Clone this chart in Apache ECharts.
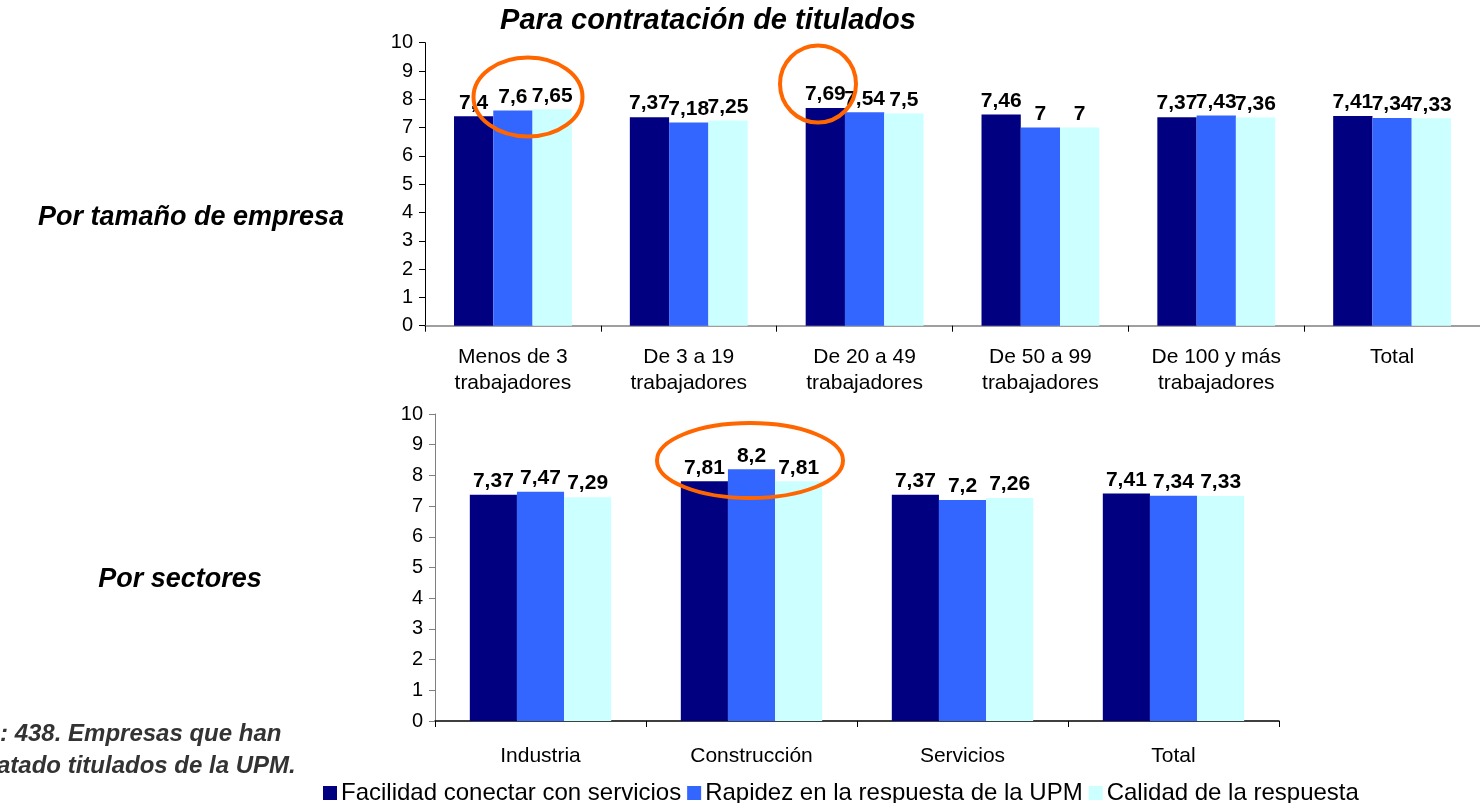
<!DOCTYPE html>
<html>
<head>
<meta charset="utf-8">
<script src="https://cdn.jsdelivr.net/npm/echarts@6/dist/echarts.min.js"></script>
<style>
html,body{margin:0;padding:0;background:#fff;}
#chart{width:1480px;height:803px;}
</style>
</head>
<body>
<div id="chart"></div>
<script>
// ---- Data ----
const seriesNames = ['Facilidad conectar con servicios', 'Rapidez en la respuesta de la UPM', 'Calidad de la respuesta'];
const topCategories = ['Menos de 3\ntrabajadores', 'De 3 a 19\ntrabajadores', 'De 20 a 49\ntrabajadores', 'De 50 a 99\ntrabajadores', 'De 100 y más\ntrabajadores', 'Total'];
const topFacilidad = [7.4, 7.37, 7.69, 7.46, 7.37, 7.41];
const topRapidez = [7.6, 7.18, 7.54, 7, 7.43, 7.34];
const topCalidad = [7.65, 7.25, 7.5, 7, 7.36, 7.33];
const bottomCategories = ['Industria', 'Construcción', 'Servicios', 'Total'];
const bottomFacilidad = [7.37, 7.81, 7.37, 7.41];
const bottomRapidez = [7.47, 8.2, 7.2, 7.34];
const bottomCalidad = [7.29, 7.81, 7.26, 7.33];
const yMin = 0, yMax = 10, yStep = 1;
const titleText = 'Para contratación de titulados';
const leftTop = 'Por tamaño de empresa';
const leftBottom = 'Por sectores';
const noteLines = [': 438. Empresas que han', 'atado titulados de la UPM.'];

// ---- Styles ----
const colors = ['#000080', '#3366FF', '#CCFFFF'];
const FONT = '"Liberation Sans", Arial, Helvetica, sans-serif';

const chart = echarts.init(document.getElementById('chart'), null, {renderer: 'canvas'});

function fmt(p) { return String(p.value).replace('.', ','); }

function makeSeries(name, data, idx, color) {
  return {
    name: name, type: 'bar', xAxisIndex: idx, yAxisIndex: idx, data: data,
    barGap: '0%', barCategoryGap: '33%',
    itemStyle: {color: color},
    label: {show: true, position: 'top', distance: 3, formatter: fmt,
      fontFamily: FONT, fontWeight: 'bold', fontSize: 21, color: '#000'},
    z: 2
  };
}

function yAxis(idx, lineColor) {
  return {
    type: 'value', gridIndex: idx, min: yMin, max: yMax, interval: yStep,
    axisLine: {show: true, lineStyle: {color: lineColor, width: 1}},
    axisTick: {show: true, length: 6, lineStyle: {color: lineColor}},
    axisLabel: {fontFamily: FONT, fontSize: 20, color: '#000', margin: 12},
    splitLine: {show: false}
  };
}

function xAxis(idx, cats, margin, lineColor) {
  return {
    type: 'category', gridIndex: idx, data: cats,
    axisLine: {show: true, lineStyle: {color: lineColor, width: 1.5}},
    axisTick: {show: true, length: 6, lineStyle: {color: '#000'}},
    axisLabel: {fontFamily: FONT, fontSize: 21, color: '#000', margin: margin, lineHeight: 26, interval: 0},
    splitLine: {show: false}
  };
}

const option = {
  backgroundColor: '#fff',
  animation: false,
  color: colors,
  grid: [
    {left: 425, top: 42.7, width: 1062, height: 283},
    {left: 435, top: 414, width: 844, height: 307}
  ],
  xAxis: [xAxis(0, topCategories, 19, '#808080'), xAxis(1, bottomCategories, 22, '#000')],
  yAxis: [yAxis(0, '#000'), yAxis(1, '#808080')],
  legend: {
    data: seriesNames, left: 323, top: 781, padding: 0, itemWidth: 14, itemHeight: 14, itemGap: 6,
    icon: 'rect',
    textStyle: {fontFamily: FONT, fontSize: 24, color: '#000', padding: [0, 0, 0, -1]}
  },
  series: [
    makeSeries(seriesNames[0], topFacilidad, 0, colors[0]),
    makeSeries(seriesNames[1], topRapidez, 0, colors[1]),
    makeSeries(seriesNames[2], topCalidad, 0, colors[2]),
    makeSeries(seriesNames[0], bottomFacilidad, 1, colors[0]),
    makeSeries(seriesNames[1], bottomRapidez, 1, colors[1]),
    makeSeries(seriesNames[2], bottomCalidad, 1, colors[2])
  ],
  graphic: [
    {type: 'text', x: 708, y: 21, z: 100,
      style: {text: titleText, font: 'italic bold 29px ' + FONT, fill: '#000', align: 'center', verticalAlign: 'middle'}},
    {type: 'text', x: 191, y: 218, z: 100,
      style: {text: leftTop, font: 'italic bold 27px ' + FONT, fill: '#000', align: 'center', verticalAlign: 'middle'}},
    {type: 'text', x: 180, y: 580, z: 100,
      style: {text: leftBottom, font: 'italic bold 27px ' + FONT, fill: '#000', align: 'center', verticalAlign: 'middle'}},
    {type: 'text', x: 0, y: 734, z: 100,
      style: {text: noteLines[0], font: 'italic bold 24px ' + FONT, fill: '#333', align: 'left', verticalAlign: 'middle'}},
    {type: 'text', x: -3, y: 766, z: 100,
      style: {text: noteLines[1], font: 'italic bold 24px ' + FONT, fill: '#333', align: 'left', verticalAlign: 'middle'}},
    {type: 'ellipse', z: 100, shape: {cx: 528, cy: 97, rx: 54.5, ry: 39.5},
      style: {fill: 'none', stroke: '#FF6600', lineWidth: 4}},
    {type: 'ellipse', z: 100, shape: {cx: 818, cy: 84, rx: 38, ry: 38.5},
      style: {fill: 'none', stroke: '#FF6600', lineWidth: 4}},
    {type: 'ellipse', z: 100, shape: {cx: 750, cy: 460.5, rx: 93, ry: 37.5},
      style: {fill: 'none', stroke: '#FF6600', lineWidth: 4}}
  ]
};
chart.setOption(option);
</script>
</body>
</html>
